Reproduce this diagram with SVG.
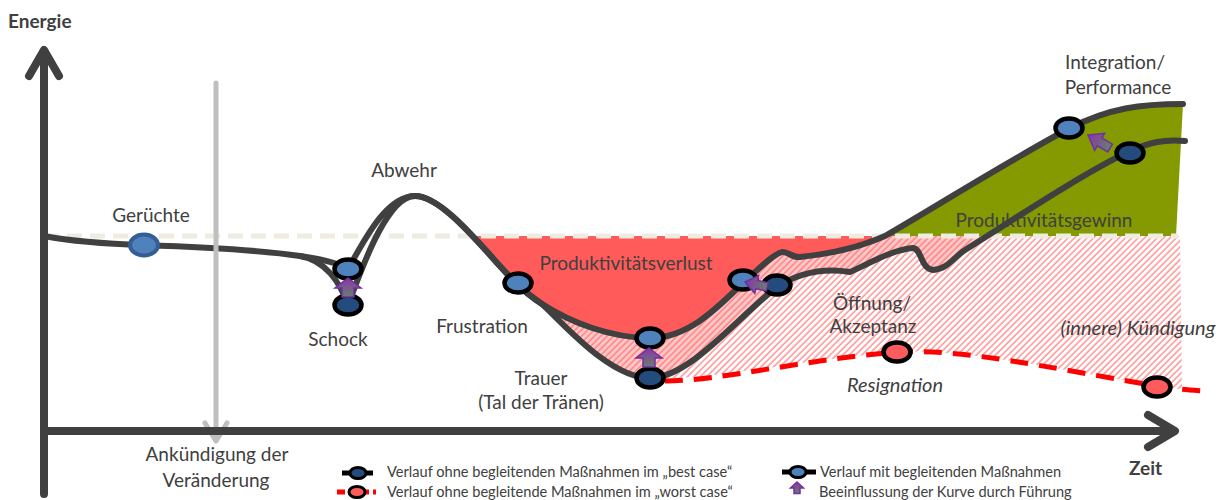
<svg xmlns="http://www.w3.org/2000/svg" width="1227" height="500" viewBox="0 0 1227 500">
  <style>
    .lbl { font-family: Lato, "Liberation Sans", sans-serif; font-size: 19px; fill: #404040; text-anchor: middle; }
    .it { font-style: italic; font-size: 20px; }
    .ax { font-family: Lato, "Liberation Sans", sans-serif; font-size: 19px; font-weight: bold; fill: #404040; }
    .leg { font-family: Lato, "Liberation Sans", sans-serif; font-size: 14.6px; fill: #404040; }
    .curve { fill: none; stroke: #404040; stroke-width: 6; stroke-linecap: round; stroke-linejoin: round; }
    .axis { fill: none; stroke: #404040; stroke-width: 8; stroke-linecap: round; stroke-linejoin: round; }
    .worst { fill: none; stroke: #ff0000; stroke-width: 5; stroke-dasharray: 18 11; }
    .base { fill: none; stroke: #eeece1; stroke-width: 5; stroke-dasharray: 15 8; }
    .nLight { fill: #4f81bd; stroke: #000; stroke-width: 4.5; }
    .nDark { fill: #244b7d; stroke: #000; stroke-width: 4.5; }
    .nRed { fill: #fe5c5c; stroke: #000; stroke-width: 4.5; }
    .pull { fill: url(#pullGrad); stroke: #7030a0; stroke-width: 1.5; stroke-linejoin: miter; }
  </style>
  <defs>
    <pattern id="hatch" width="4.5" height="4.5" patternUnits="userSpaceOnUse" patternTransform="rotate(45)">
      <rect width="4.5" height="4.5" fill="#ffffff"/>
      <line x1="1" y1="0" x2="1" y2="4.5" stroke="#ff9a9a" stroke-width="1.6"/>
    </pattern>
    <linearGradient id="pullGrad" x1="0" y1="0" x2="0" y2="1">
      <stop offset="0" stop-color="#8a35a8"/>
      <stop offset="1" stop-color="#66806f"/>
    </linearGradient>
    <clipPath id="belowBase"><rect x="0" y="236" width="1227" height="264"/></clipPath>
    <!-- block arrow pointing up, tip at origin -->
    <path id="pullArrow" d="M0,0 L13,10 L6,10 L6,19 L-6,19 L-6,10 L-13,10 Z" vector-effect="non-scaling-stroke"/>
  </defs>

  <rect width="1227" height="500" fill="#ffffff"/>

  <!-- areas -->
  <g id="areas">
    <!-- hatched loss zone down to the worst case curve -->
    <path clip-path="url(#belowBase)" fill="url(#hatch)"
      d="M415,196 C445,196 490,258 517,284 C525,292 533,298 542,304 C565,325 610,378 650,378 C700,382 800,360 897,352 C960,348 1050,368 1157,386 C1168,388 1175,389 1182,389 L1180,236 L415,236 Z"/>
    <!-- zone between the two curves -->
    <path fill="#ff6060" fill-opacity="0.35"
      d="M542,304 C565,325 610,378 650,378 C690,378 740,315 777,287 C800,272 825,268 850,272 C865,266 890,250 913,248 C922,249 920,268 933,270 C948,269 955,256 965,250 L987,236 L885,236 C860,247 830,254 800,257 C792,258 788,251 782,252 C772,255 760,268 745,281 C720,305 690,338 650,338 C610,338 570,322 542,304 Z"/>
    <!-- Produktivitätsverlust -->
    <path clip-path="url(#belowBase)" fill="#ff5b5b"
      d="M415,196 C445,196 490,258 517,284 C525,292 533,298 542,304 C570,322 610,338 650,338 C690,338 720,305 745,281 C760,268 772,255 782,252 C788,251 792,258 800,257 C830,254 860,247 885,236 L415,236 Z"/>
    <!-- Produktivitätsgewinn -->
    <path fill="#849a00"
      d="M885,236 C930,210 1010,160 1070,128 C1110,108 1140,104 1183,104 L1176,236 Z"/>
  </g>

  <!-- reference level -->
  <line class="base" x1="44" y1="236" x2="1178" y2="236"/>

  <!-- connectors: curves -->
  <g id="connectors">
    <!-- common start -->
    <path class="curve" d="M44,236 C70,241 110,244 144,245 C200,247 260,250 300,256"/>
    <!-- without measures (best case) -->
    <path class="curve" d="M300,256 C325,260 340,282 348,305 C358,280 385,196 415,196 C445,196 490,258 517,284 C525,292 533,298 542,304 C565,325 610,378 650,378 C690,378 740,315 777,287 C800,272 825,268 850,272 C865,266 890,250 913,248 C922,249 920,268 933,270 C948,269 955,256 965,250 C1010,222 1080,175 1128,152 C1150,142 1165,139 1185,141"/>
    <!-- with measures -->
    <path class="curve" d="M300,256 C322,259 338,263 348,269 C362,245 385,196 415,196 C445,196 490,258 517,284 C525,292 533,298 542,304 C570,322 610,338 650,338 C690,338 720,305 745,281 C760,268 772,255 782,252 C788,251 792,258 800,257 C830,254 860,247 885,236 C930,210 1010,160 1070,128 C1110,108 1140,104 1183,104"/>
    <!-- worst case -->
    <path class="worst" d="M665,381 C720,381 800,360 897,352 C960,348 1050,368 1157,386 C1175,389 1190,390 1203,391"/>
  </g>

  <!-- nodes -->
  <g id="node-geruechte"><ellipse cx="144" cy="245" rx="14" ry="10.5" fill="#4f81bd" stroke="#335f95" stroke-width="4"/></g>
  <g id="node-schock-mit"><ellipse class="nLight" cx="348" cy="269" rx="13.5" ry="9.5"/></g>
  <g id="node-schock-ohne"><ellipse class="nDark" cx="348" cy="305" rx="13.5" ry="9.5"/></g>
  <g id="node-frustration"><ellipse class="nLight" cx="518" cy="283" rx="13.5" ry="9.5"/></g>
  <g id="node-trauer-mit"><ellipse class="nLight" cx="650" cy="338" rx="13.5" ry="9.5"/></g>
  <g id="node-trauer-ohne"><ellipse class="nDark" cx="650" cy="378" rx="13.5" ry="9.5"/></g>
  <g id="node-oeffnung-mit"><ellipse class="nLight" cx="743" cy="280" rx="13.5" ry="9.5"/></g>
  <g id="node-oeffnung-ohne"><ellipse class="nDark" cx="777" cy="285" rx="13.5" ry="9.5"/></g>
  <g id="node-integration-mit"><ellipse class="nLight" cx="1069" cy="128" rx="13.5" ry="9.5"/></g>
  <g id="node-integration-ohne"><ellipse class="nDark" cx="1130" cy="153" rx="13.5" ry="9.5"/></g>
  <g id="node-resignation"><ellipse class="nRed" cx="897" cy="352" rx="13.5" ry="9.5"/></g>
  <g id="node-kuendigung"><ellipse class="nRed" cx="1157" cy="387" rx="13.5" ry="9.5"/></g>

  <!-- leadership influence arrows -->
  <g id="influence">
    <use href="#pullArrow" class="pull" transform="translate(348,278)"/>
    <use href="#pullArrow" class="pull" transform="translate(649,348)"/>
    <use href="#pullArrow" class="pull" transform="translate(745,282) rotate(-77.7) scale(0.7,1.2)"/>
    <use href="#pullArrow" class="pull" transform="translate(1088,135) rotate(-59.4) scale(0.75,1.35)"/>
  </g>

  <!-- announcement marker -->
  <g id="announcement" fill="none" stroke="#bfbfbf" stroke-width="5" stroke-linecap="round" stroke-linejoin="round">
    <line x1="216" y1="83" x2="216" y2="440"/>
    <polyline points="205,423 216,441 227,423"/>
  </g>

  <!-- axes -->
  <g id="axes">
    <path class="axis" d="M44,494 L44,51 M29,76 L44,50 L59,76"/>
    <path class="axis" d="M44,431 L1174,431 M1148,415 L1175,431 L1148,447"/>
  </g>

  <!-- labels -->
  <g id="labels">
    <text class="ax" x="8" y="28">Energie</text>
    <text class="ax" x="1129" y="475">Zeit</text>
    <text class="lbl" x="151" y="222">Gerüchte</text>
    <text class="lbl" x="404" y="177">Abwehr</text>
    <text class="lbl" x="338" y="346">Schock</text>
    <text class="lbl" x="482" y="333">Frustration</text>
    <text class="lbl" x="626" y="270">Produktivitätsverlust</text>
    <text class="lbl" x="541" y="385">Trauer</text>
    <text class="lbl" x="541" y="409">(Tal der Tränen)</text>
    <text class="lbl" x="872" y="310">Öffnung/</text>
    <text class="lbl" x="873" y="333">Akzeptanz</text>
    <text class="lbl it" x="895" y="392">Resignation</text>
    <text class="lbl it" x="1138" y="335">(innere) Kündigung</text>
    <text class="lbl" x="1115" y="69">Integration/</text>
    <text class="lbl" x="1118" y="94">Performance</text>
    <text class="lbl" x="1044" y="227">Produktivitätsgewinn</text>
    <text class="lbl" x="217" y="461">Ankündigung der</text>
    <text class="lbl" x="216" y="487">Veränderung</text>
  </g>

  <!-- legend -->
  <g id="legend">
    <line x1="342" y1="473" x2="373" y2="473" stroke="#000" stroke-width="5"/>
    <ellipse cx="358" cy="473" rx="8" ry="5.5" fill="#244b7d" stroke="#000" stroke-width="3"/>
    <text class="leg" x="387" y="477">Verlauf ohne begleitenden Maßnahmen im „best case“</text>

    <line x1="337" y1="492" x2="376" y2="492" stroke="#ff0000" stroke-width="5" stroke-dasharray="8 4"/>
    <ellipse cx="357" cy="492" rx="8" ry="5.5" fill="#fe5c5c" stroke="#000" stroke-width="3"/>
    <text class="leg" x="387" y="497">Verlauf ohne begleitende Maßnahmen im „worst case“</text>

    <line x1="782" y1="472" x2="816" y2="472" stroke="#000" stroke-width="5"/>
    <ellipse cx="798" cy="472" rx="8" ry="5.5" fill="#4f81bd" stroke="#000" stroke-width="3"/>
    <text class="leg" x="820" y="477">Verlauf mit begleitenden Maßnahmen</text>

    <use href="#pullArrow" class="pull" transform="translate(797,482) scale(0.5,0.6)"/>
    <text class="leg" x="819" y="497">Beeinflussung der Kurve durch Führung</text>
  </g>
</svg>
